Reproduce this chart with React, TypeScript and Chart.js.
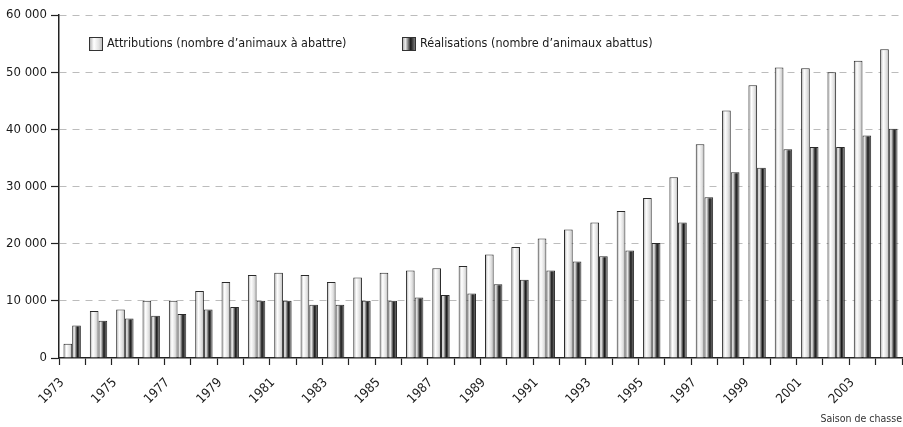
import React, { useEffect, useRef } from "react";
import { Chart, registerables } from "chart.js";

Chart.register(...registerables);

const years = [
  "1973", "1974", "1975", "1976", "1977", "1978", "1979", "1980",
  "1981", "1982", "1983", "1984", "1985", "1986", "1987", "1988",
  "1989", "1990", "1991", "1992", "1993", "1994", "1995", "1996",
  "1997", "1998", "1999", "2000", "2001", "2002", "2003", "2004",
];

const attributions = [
  2500, 8200, 8500, 10000, 10000, 11700, 13300, 14500,
  14900, 14500, 13300, 14100, 14900, 15300, 15700, 16100,
  18100, 19400, 20900, 22500, 23700, 25700, 28000, 31600,
  37400, 43300, 47700, 50800, 50700, 50000, 52000, 54000,
];

const realisations = [
  5700, 6500, 6900, 7400, 7700, 8500, 8900, 10000,
  10000, 9300, 9300, 10000, 10000, 10600, 11000, 11300,
  12900, 13700, 15300, 16900, 17800, 18800, 20100, 23700,
  28100, 32500, 33300, 36500, 36900, 36900, 38900, 40100,
];

const seriesNames = [
  "Attributions (nombre d\u2019animaux à abattre)",
  "Réalisations (nombre d\u2019animaux abattus)",
];

const axisTitle = "Saison de chasse";

const FONT = '"DejaVu Sans Condensed", "Liberation Sans Narrow", sans-serif';
const CAT_PCT = 0.66;
const BAR_PCT = 1.0;

const lightStops: [number, string][] = [
  [0, "#a4a4a4"],
  [0.35, "#ffffff"],
  [0.7, "#e2e2e2"],
  [1, "#b4b4b4"],
];
const darkStops: [number, string][] = [
  [0, "#a0a0a0"],
  [0.25, "#e8e8e8"],
  [0.62, "#1a1a1a"],
  [1, "#909090"],
];
const stopsFor = [lightStops, darkStops];

function makeGradient(c: CanvasRenderingContext2D, x0: number, x1: number, stops: [number, string][]) {
  const g = c.createLinearGradient(x0, 0, x1, 0);
  stops.forEach(([o, col]) => g.addColorStop(o, col));
  return g;
}

function barFill(ctx: any) {
  const ds = ctx.datasetIndex ?? 0;
  const stops = stopsFor[ds];
  if (ctx.type !== "data") return stops[1][1];
  const chart = ctx.chart;
  const xs = chart.scales?.x;
  if (!xs || !xs.width) return stops[1][1];
  const cw = xs.width / years.length;
  const center = xs.getPixelForValue(ctx.dataIndex);
  const groupW = cw * CAT_PCT;
  const slot = groupW / 2;
  const barW = slot * BAR_PCT;
  const left = center - groupW / 2 + ds * slot + (slot - barW) / 2;
  return makeGradient(chart.ctx, left, left + barW, stops);
}

const fmt = (v: number) => String(v).replace(/\B(?=(\d{3})+(?!\d))/g, " ");

const legendPlugin = {
  id: "insideLegend",
  afterDraw(chart: any) {
    const { ctx, chartArea } = chart;
    const items = [
      { x: chartArea.left + 30, label: seriesNames[0], stops: lightStops },
      { x: chartArea.left + 343, label: seriesNames[1], stops: darkStops },
    ];
    const y = chartArea.top + 22;
    const size = 14;
    ctx.save();
    items.forEach((it) => {
      ctx.fillStyle = makeGradient(ctx, it.x, it.x + size, it.stops);
      ctx.fillRect(it.x, y, size, size);
      ctx.lineWidth = 1;
      ctx.strokeStyle = "#333";
      ctx.strokeRect(it.x + 0.5, y + 0.5, size - 1, size - 1);
      ctx.fillStyle = "#1a1a1a";
      ctx.font = `12.5px ${FONT}`;
      ctx.textBaseline = "middle";
      ctx.textAlign = "left";
      ctx.fillText(it.label, it.x + size + 4, y + size / 2);
    });
    ctx.restore();
  },
};

export default function App() {
  const ref = useRef<HTMLCanvasElement>(null);
  useEffect(() => {
    if (!ref.current) return;
    const chart = new Chart(ref.current, {
      type: "bar",
      data: {
        labels: years,
        datasets: [
          {
            label: seriesNames[0],
            data: attributions,
            backgroundColor: barFill,
            borderColor: "#2a2a2a",
            borderWidth: 1,
            categoryPercentage: CAT_PCT,
            barPercentage: BAR_PCT,
          },
          {
            label: seriesNames[1],
            data: realisations,
            backgroundColor: barFill,
            borderColor: "#2a2a2a",
            borderWidth: 1,
            categoryPercentage: CAT_PCT,
            barPercentage: BAR_PCT,
          },
        ],
      },
      options: {
        animation: false,
        responsive: true,
        maintainAspectRatio: false,
        layout: { padding: { top: 15, right: 1, left: 0, bottom: 0 } },
        plugins: {
          legend: { display: false },
          tooltip: { enabled: false },
        },
        scales: {
          x: {
            afterFit: (s: any) => {
              s.height = 69;
              s.paddingRight = 0;
              s.paddingLeft = 0;
            },
            grid: {
              offset: true,
              drawOnChartArea: false,
              drawTicks: true,
              tickLength: 7,
              tickColor: "#222",
              tickWidth: 1.2,
            },
            border: { color: "#222", width: 1.5 },
            ticks: {
              autoSkip: false,
              maxRotation: 45,
              minRotation: 45,
              padding: 10,
              labelOffset: -10,
              color: "#1a1a1a",
              font: { family: FONT, size: 13 },
              callback: (_v: any, i: number) => (i % 2 === 0 ? years[i] : ""),
            },
            title: {
              display: true,
              text: axisTitle,
              align: "end",
              color: "#333",
              font: { family: FONT, size: 10.5 },
              padding: { top: 0, bottom: 1 },
            },
          },
          y: {
            min: 0,
            max: 60000,
            afterFit: (s: any) => {
              s.width = 59;
            },
            grid: {
              color: (c: any) => (c.tick && c.tick.value === 0 ? "rgba(0,0,0,0)" : "#bcbcbc"),
              lineWidth: 1,
              drawTicks: true,
              tickLength: 8,
              tickColor: "#222",
              tickWidth: 1.2,
            },
            border: { color: "#222", width: 1.5, dash: [7, 6] },
            ticks: {
              stepSize: 10000,
              padding: 4,
              color: "#1a1a1a",
              font: { family: FONT, size: 13 },
              callback: (v: any) => fmt(Number(v)),
            },
          },
        },
      },
      plugins: [legendPlugin],
    });
    return () => chart.destroy();
  }, []);
  return (
    <div style={{ position: "absolute", left: 0, top: 0, width: 903, height: 427 }}>
      <canvas ref={ref} />
    </div>
  );
}
